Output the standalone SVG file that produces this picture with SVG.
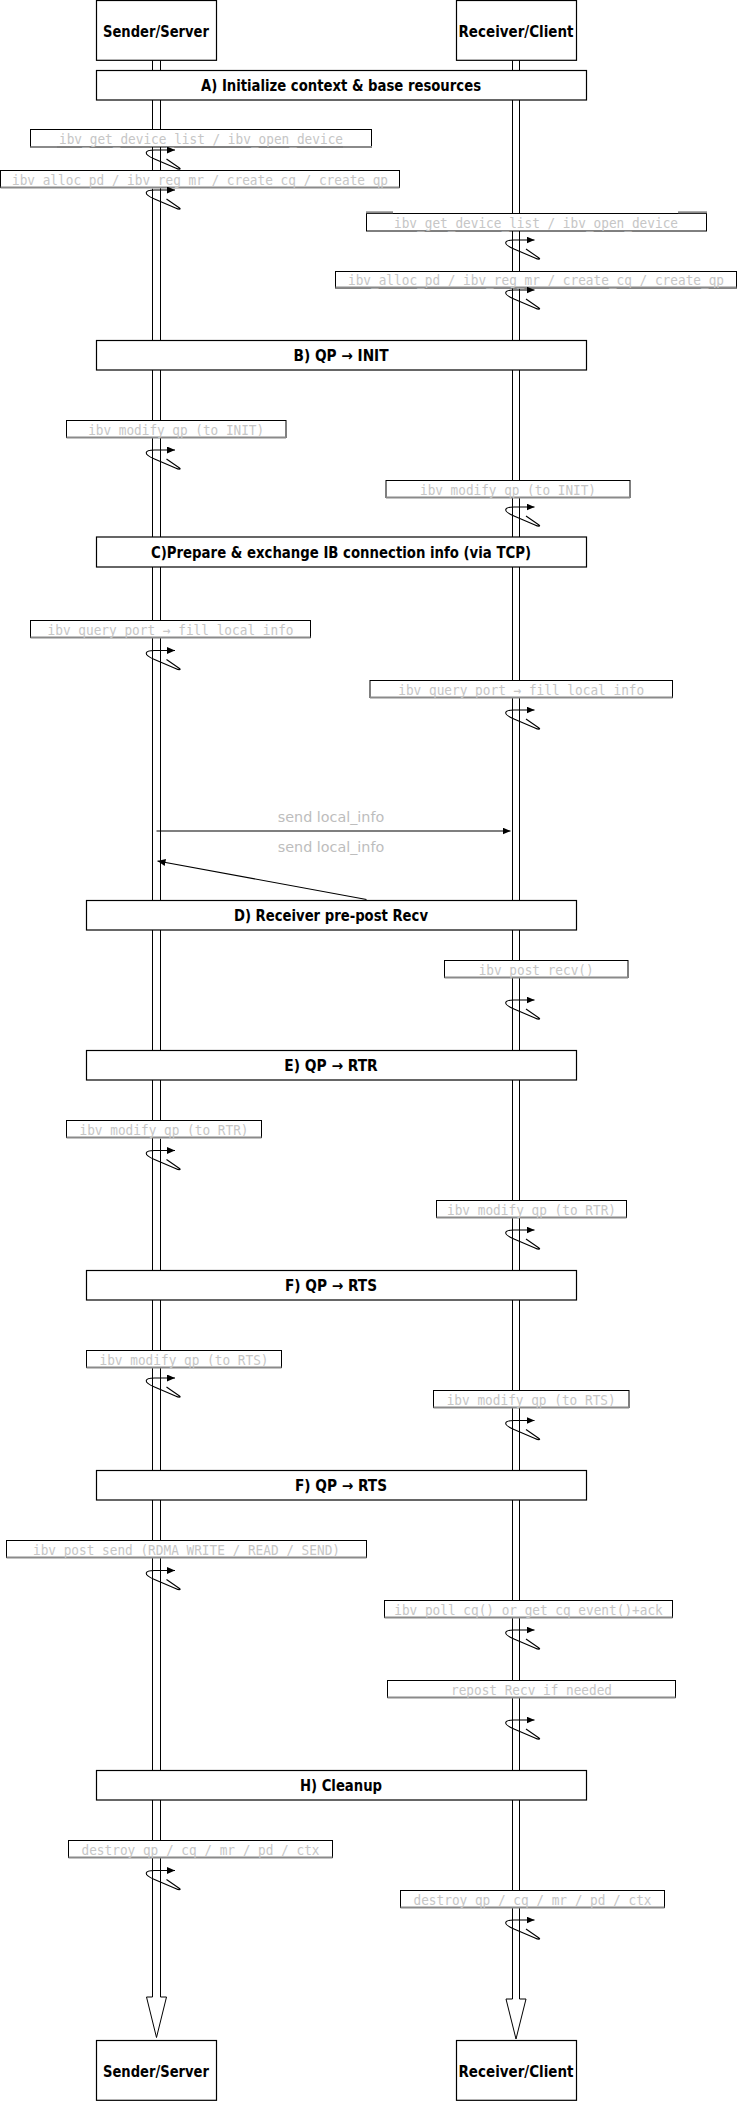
<svg xmlns="http://www.w3.org/2000/svg" xmlns:xlink="http://www.w3.org/1999/xlink" width="737" height="2101" viewBox="0 0 737 2101">
<style>
.lane{fill:none;stroke:#000;stroke-width:1}
.box{fill:#fff;stroke:#000;stroke-width:1.2}
.ttl{font-family:"DejaVu Sans Condensed","DejaVu Sans",sans-serif;font-stretch:condensed;font-weight:bold;font-size:15px;fill:#000;text-anchor:middle}
.nb{fill:#fff;stroke:#000;stroke-width:1}
.ng{stroke:#8a8a8a;stroke-width:2}
.nt{font-family:"DejaVu Sans Mono","Liberation Mono",monospace;font-size:14px;fill:#c6c6c6;text-anchor:middle}
.lbl{font-family:"DejaVu Sans",sans-serif;font-size:13.5px;fill:#bdbdbd;text-anchor:middle}
.msg{fill:none;stroke:#000;stroke-width:1.1;marker-end:url(#ah)}
.loop{fill:none;stroke:#000;stroke-width:1.1;marker-end:url(#ah)}
</style>
<defs>
<marker id="ah" markerUnits="userSpaceOnUse" markerWidth="9" markerHeight="8" refX="8" refY="3.5" orient="auto"><path d="M0,0 L8,3.5 L0,7 z" fill="#000"/></marker>
<path id="lp" class="loop" d="M10,9 L23,18 C25,19.5 22,19.5 19,18 L-2,9 C-14,4 -12,0 -2,0 L18.5,0"/>
</defs>
<rect width="737" height="2101" fill="#fff"/>

<g id="lifelines">
<path class="lane" d="M152.5,60 V1997 H146.5 L156.5,2037.5 L166.5,1997 H160.5 V60"/>
<path class="lane" d="M512.5,60 V1999 H506 L516,2039 L526,1999 H519.5 V60"/>
</g>

<g id="actor-sender-top"><rect class="box" x="96.5" y="0.5" width="120" height="59.8"/><text class="ttl" x="156" y="36.5" textLength="106" lengthAdjust="spacingAndGlyphs">Sender/Server</text></g>
<g id="actor-receiver-top"><rect class="box" x="456.5" y="0.5" width="120" height="59.8"/><text class="ttl" x="516" y="36.5" textLength="115" lengthAdjust="spacingAndGlyphs">Receiver/Client</text></g>
<g id="actor-sender-bottom"><rect class="box" x="96.5" y="2040.5" width="120" height="59.8"/><text class="ttl" x="156" y="2076.5" textLength="106" lengthAdjust="spacingAndGlyphs">Sender/Server</text></g>
<g id="actor-receiver-bottom"><rect class="box" x="456.5" y="2040.5" width="120" height="59.8"/><text class="ttl" x="516" y="2076.5" textLength="115" lengthAdjust="spacingAndGlyphs">Receiver/Client</text></g>

<g id="phase-a"><rect class="box" x="96.5" y="70.5" width="490" height="29.5"/><text class="ttl" x="341" y="91" textLength="280" lengthAdjust="spacingAndGlyphs">A) Initialize context &amp; base resources</text></g>
<g id="phase-b"><rect class="box" x="96.5" y="340.5" width="490" height="29.5"/><text class="ttl" x="341" y="361" textLength="95" lengthAdjust="spacingAndGlyphs">B) QP → INIT</text></g>
<g id="phase-c"><rect class="box" x="96.5" y="537" width="490" height="30"/><text class="ttl" x="341" y="558" textLength="380" lengthAdjust="spacingAndGlyphs">C)Prepare &amp; exchange IB connection info (via TCP)</text></g>
<g id="phase-d"><rect class="box" x="86.5" y="900.5" width="490" height="29.5"/><text class="ttl" x="331" y="921" textLength="194" lengthAdjust="spacingAndGlyphs">D) Receiver pre-post Recv</text></g>
<g id="phase-e"><rect class="box" x="86.5" y="1050.5" width="490" height="29.5"/><text class="ttl" x="331" y="1071" textLength="93.5" lengthAdjust="spacingAndGlyphs">E) QP → RTR</text></g>
<g id="phase-f"><rect class="box" x="86.5" y="1270.5" width="490" height="29.5"/><text class="ttl" x="331" y="1291" textLength="92" lengthAdjust="spacingAndGlyphs">F) QP → RTS</text></g>
<g id="phase-f2"><rect class="box" x="96.5" y="1470.5" width="490" height="29.5"/><text class="ttl" x="341" y="1491" textLength="92" lengthAdjust="spacingAndGlyphs">F) QP → RTS</text></g>
<g id="phase-h"><rect class="box" x="96.5" y="1770.5" width="490" height="29.5"/><text class="ttl" x="341" y="1791" textLength="82" lengthAdjust="spacingAndGlyphs">H) Cleanup</text></g>

<g id="note-s1"><rect class="nb" x="30.5" y="129.5" width="341" height="17.5"/><line class="ng" x1="30.5" y1="147" x2="57" y2="147"/><line class="ng" x1="343" y1="147" x2="372" y2="147"/><text class="nt" x="201" y="143.5" textLength="284" lengthAdjust="spacingAndGlyphs">ibv_get_device_list / ibv_open_device</text></g>
<g id="note-s2"><rect class="nb" x="0.5" y="170.5" width="399" height="17"/><line class="ng" x1="0.5" y1="187.5" x2="399.5" y2="187.5"/><text class="nt" x="200" y="184.5" textLength="376" lengthAdjust="spacingAndGlyphs">ibv_alloc_pd / ibv_reg_mr / create_cq / create_qp</text></g>
<g id="note-r1"><rect class="nb" x="366.5" y="213.5" width="340" height="17.5"/><line class="ng" x1="366" y1="212.3" x2="393" y2="212.3"/><line class="ng" x1="678" y1="212.3" x2="707" y2="212.3"/><text class="nt" x="536" y="227.5" textLength="284" lengthAdjust="spacingAndGlyphs">ibv_get_device_list / ibv_open_device</text></g>
<g id="note-r2"><rect class="nb" x="335.5" y="271.5" width="401" height="16.5"/><line class="ng" x1="335.5" y1="287.5" x2="736.5" y2="287.5"/><text class="nt" x="536" y="284.5" textLength="376" lengthAdjust="spacingAndGlyphs">ibv_alloc_pd / ibv_reg_mr / create_cq / create_qp</text></g>
<g id="note-s3"><rect class="nb" x="66.5" y="420.5" width="219.5" height="17"/><line class="ng" x1="66.5" y1="437.5" x2="286" y2="437.5"/><text class="nt" x="176.2" y="434.5" textLength="176" lengthAdjust="spacingAndGlyphs">ibv_modify_qp (to INIT)</text></g>
<g id="note-r3"><rect class="nb" x="386" y="480.5" width="244" height="17"/><line class="ng" x1="386" y1="497.5" x2="630" y2="497.5"/><text class="nt" x="508" y="494.5" textLength="176" lengthAdjust="spacingAndGlyphs">ibv_modify_qp (to INIT)</text></g>
<g id="note-s4"><rect class="nb" x="30.5" y="620.5" width="280" height="17"/><line class="ng" x1="30.5" y1="637.5" x2="310.5" y2="637.5"/><text class="nt" x="170.5" y="634.5" textLength="246" lengthAdjust="spacingAndGlyphs">ibv_query_port → fill local_info</text></g>
<g id="note-r4"><rect class="nb" x="370" y="680.5" width="302.5" height="17"/><line class="ng" x1="370" y1="697.5" x2="672.5" y2="697.5"/><text class="nt" x="521.2" y="694.5" textLength="246" lengthAdjust="spacingAndGlyphs">ibv_query_port → fill local_info</text></g>
<g id="note-r5"><rect class="nb" x="444.5" y="960.5" width="183.5" height="17"/><line class="ng" x1="444.5" y1="977.5" x2="628" y2="977.5"/><text class="nt" x="536.2" y="974.5" textLength="115" lengthAdjust="spacingAndGlyphs">ibv_post_recv()</text></g>
<g id="note-s5"><rect class="nb" x="66.5" y="1120.5" width="195" height="17"/><line class="ng" x1="66.5" y1="1137.5" x2="261.5" y2="1137.5"/><text class="nt" x="164" y="1134.5" textLength="169" lengthAdjust="spacingAndGlyphs">ibv_modify_qp (to RTR)</text></g>
<g id="note-r6"><rect class="nb" x="436.5" y="1200.5" width="190" height="17"/><line class="ng" x1="436.5" y1="1217.5" x2="626.5" y2="1217.5"/><text class="nt" x="531.5" y="1214.5" textLength="169" lengthAdjust="spacingAndGlyphs">ibv_modify_qp (to RTR)</text></g>
<g id="note-s6"><rect class="nb" x="86.5" y="1350.5" width="195" height="17"/><line class="ng" x1="86.5" y1="1367.5" x2="281.5" y2="1367.5"/><text class="nt" x="184" y="1364.5" textLength="169" lengthAdjust="spacingAndGlyphs">ibv_modify_qp (to RTS)</text></g>
<g id="note-r7"><rect class="nb" x="433.5" y="1390.5" width="195.5" height="17"/><line class="ng" x1="433.5" y1="1407.5" x2="629" y2="1407.5"/><text class="nt" x="531.2" y="1404.5" textLength="169" lengthAdjust="spacingAndGlyphs">ibv_modify_qp (to RTS)</text></g>
<g id="note-s7"><rect class="nb" x="6.5" y="1540.5" width="360" height="17"/><line class="ng" x1="6.5" y1="1557.5" x2="366.5" y2="1557.5"/><text class="nt" x="186.5" y="1554.5" textLength="307" lengthAdjust="spacingAndGlyphs">ibv_post_send (RDMA_WRITE / READ / SEND)</text></g>
<g id="note-r8"><rect class="nb" x="384.5" y="1600.5" width="288" height="17"/><line class="ng" x1="384.5" y1="1617.5" x2="672.5" y2="1617.5"/><text class="nt" x="528.5" y="1614.5" textLength="268.5" lengthAdjust="spacingAndGlyphs">ibv_poll_cq() or get_cq_event()+ack</text></g>
<g id="note-r9"><rect class="nb" x="387.5" y="1680.5" width="288" height="17"/><line class="ng" x1="387.5" y1="1697.5" x2="675.5" y2="1697.5"/><text class="nt" x="531.5" y="1694.5" textLength="161" lengthAdjust="spacingAndGlyphs">repost Recv if needed</text></g>
<g id="note-s8"><rect class="nb" x="68.5" y="1840.5" width="264" height="17"/><line class="ng" x1="68.5" y1="1857.5" x2="332.5" y2="1857.5"/><text class="nt" x="200.5" y="1854.5" textLength="238" lengthAdjust="spacingAndGlyphs">destroy_qp / cq / mr / pd / ctx</text></g>
<g id="note-r10"><rect class="nb" x="400.5" y="1890.5" width="264" height="17"/><line class="ng" x1="400.5" y1="1907.5" x2="664.5" y2="1907.5"/><text class="nt" x="532.5" y="1904.5" textLength="238" lengthAdjust="spacingAndGlyphs">destroy_qp / cq / mr / pd / ctx</text></g>

<g id="connectors">
<use xlink:href="#lp" x="156.5" y="150"/>
<use xlink:href="#lp" x="156.5" y="190"/>
<use xlink:href="#lp" x="516" y="240"/>
<use xlink:href="#lp" x="516" y="290"/>
<use xlink:href="#lp" x="156.5" y="450"/>
<use xlink:href="#lp" x="516" y="507"/>
<use xlink:href="#lp" x="156.5" y="650.5"/>
<use xlink:href="#lp" x="516" y="710"/>
<use xlink:href="#lp" x="516" y="1000"/>
<use xlink:href="#lp" x="156.5" y="1150.5"/>
<use xlink:href="#lp" x="516" y="1230"/>
<use xlink:href="#lp" x="156.5" y="1378"/>
<use xlink:href="#lp" x="516" y="1420.5"/>
<use xlink:href="#lp" x="156.5" y="1570.5"/>
<use xlink:href="#lp" x="516" y="1630"/>
<use xlink:href="#lp" x="516" y="1720"/>
<use xlink:href="#lp" x="156.5" y="1870.5"/>
<use xlink:href="#lp" x="516" y="1920"/>
<path class="msg" d="M156.5,831 L510.5,831"/>
<path class="msg" d="M366.5,899.5 L157.5,861"/>
<text class="lbl" x="331" y="821.5" textLength="106.5" lengthAdjust="spacingAndGlyphs">send local_info</text>
<text class="lbl" x="331" y="851.5" textLength="106.5" lengthAdjust="spacingAndGlyphs">send local_info</text>
</g>
</svg>
